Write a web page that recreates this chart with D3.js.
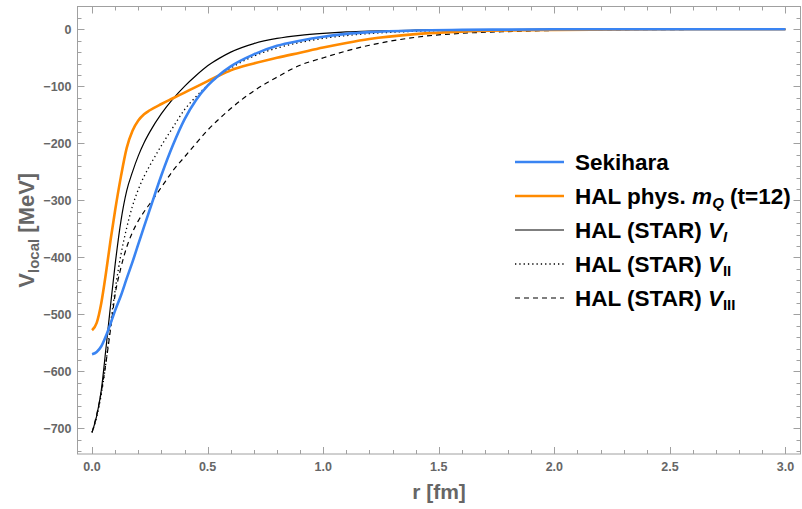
<!DOCTYPE html>
<html>
<head>
<meta charset="utf-8">
<script src="https://cdn.jsdelivr.net/npm/d3@7"></script>
<style>
  body { margin: 0; background: #fff; }
  svg text { font-family: "Liberation Sans", Arial, sans-serif; }
</style>
</head>
<body>
<svg id="chart"></svg>
<script>
// r grid in fm
var rValues = [0, 0.02, 0.04, 0.06, 0.08, 0.1, 0.125, 0.15, 0.175, 0.2, 0.225, 0.25, 0.3, 0.35, 0.4, 0.45,
  0.5, 0.55, 0.6, 0.7, 0.8, 0.9, 1.0, 1.1, 1.2, 1.4, 1.6, 1.8, 2.0, 2.5, 3.0];

var sekihara = [-570, -566, -556, -538, -516, -493, -467, -437, -408, -377, -346, -316, -256, -203, -158, -124,
  -99, -80, -65, -44, -29, -20, -13, -8, -5, -2, -1, -0.5, 0, 0, 0];
var halPhys = [-528, -515, -480, -428, -370, -317, -258, -208, -178, -160, -149, -142, -131, -121, -111, -101,
  -91, -81, -72, -60, -50, -41, -32, -24, -17, -8.5, -4, -2, -1, 0, 0];
var starI = [-707, -678, -633, -560, -484, -412, -336, -283, -250, -222, -199, -180, -148, -122, -100, -81,
  -64, -51, -40, -25, -16, -10.5, -7, -4.5, -3, -1.5, -0.8, -0.4, -0.2, 0, 0];
var starII = [-707, -680, -640, -585, -517, -457, -395, -348, -310, -281, -258, -239, -204, -172, -141, -118,
  -98, -81, -68, -47, -33, -23, -16, -11, -7.5, -3.5, -1.5, -0.8, -0.4, 0, 0];
var starIII = [-707, -676, -636, -585, -526, -465, -418, -382, -356, -336, -320, -306, -277, -248, -224, -200,
  -177, -157, -139, -108, -84, -63, -50, -38, -28, -14, -7, -4, -2, -0.5, 0];

var xMajor = [0, 0.5, 1, 1.5, 2, 2.5, 3];
var yMajor = [0, -100, -200, -300, -400, -500, -600, -700];

function main() {
  var series = [
    { values: sekihara, color: "#3a84f2", width: 2.6, dash: null },
    { values: halPhys, color: "#ff8a00", width: 2.6, dash: null },
    { values: starI, color: "#000", width: 1.2, dash: null },
    { values: starII, color: "#000", width: 1.3, dash: "1.3,3" },
    { values: starIII, color: "#000", width: 1.2, dash: "5,4" }
  ];

  var svg = d3.select("#chart").attr("width", 802).attr("height", 509);

  var plotLeft = 77.5, plotRight = 800.5, plotTop = 6.5, plotBottom = 454;
  var x = d3.scaleLinear().domain([-0.063, 3.065]).range([plotLeft, plotRight]);
  var y = d3.scaleLinear().domain([-745, 40]).range([plotBottom, plotTop]);

  var frameColor = "#a0a0a0";
  var labelColor = "#666";

  svg.append("defs").append("clipPath").attr("id", "plotClip")
    .append("rect").attr("x", plotLeft).attr("y", plotTop)
    .attr("width", plotRight - plotLeft).attr("height", plotBottom - plotTop);

  // curves
  var line = d3.line()
    .x(function (d) { return x(d[0]); })
    .y(function (d) { return y(d[1]); })
    .curve(d3.curveMonotoneX);

  var plot = svg.append("g").attr("clip-path", "url(#plotClip)");
  // black ones first, colored on top like the picture
  [2, 3, 4, 1, 0].forEach(function (i) {
    var s = series[i];
    plot.append("path")
      .datum(d3.zip(rValues, s.values))
      .attr("fill", "none")
      .attr("stroke", s.color)
      .attr("stroke-width", s.width)
      .attr("stroke-dasharray", s.dash)
      .attr("stroke-linejoin", "round")
      .attr("d", line);
  });

  // frame
  svg.append("rect")
    .attr("x", plotLeft).attr("y", plotTop)
    .attr("width", plotRight - plotLeft).attr("height", plotBottom - plotTop)
    .attr("fill", "none").attr("stroke", frameColor).attr("stroke-width", 1);

  // ticks on all four sides, pointing inward
  var xMinor = d3.range(0, 31).map(function (i) { return i / 10; }).filter(function (v) {
    return xMajor.indexOf(v) < 0;
  });
  var yMinor = d3.range(-740, 40, 20).filter(function (v) { return v % 100 !== 0; });

  var ticks = svg.append("g").attr("stroke", frameColor).attr("stroke-width", 1);
  function xTick(v, len) {
    var px = Math.round(x(v)) + 0.5;
    ticks.append("line").attr("x1", px).attr("x2", px).attr("y1", plotBottom).attr("y2", plotBottom - len);
    ticks.append("line").attr("x1", px).attr("x2", px).attr("y1", plotTop).attr("y2", plotTop + len);
  }
  function yTick(v, len) {
    var py = Math.round(y(v)) + 0.5;
    ticks.append("line").attr("x1", plotLeft).attr("x2", plotLeft + len).attr("y1", py).attr("y2", py);
    ticks.append("line").attr("x1", plotRight).attr("x2", plotRight - len).attr("y1", py).attr("y2", py);
  }
  xMajor.forEach(function (v) { xTick(v, 7); });
  xMinor.forEach(function (v) { xTick(v, 4); });
  yMajor.forEach(function (v) { yTick(v, 7); });
  yMinor.forEach(function (v) { yTick(v, 4); });

  // tick labels
  svg.append("g").selectAll("text").data(xMajor).join("text")
    .attr("x", function (d) { return x(d); })
    .attr("y", 471)
    .attr("text-anchor", "middle")
    .attr("font-size", 12.5).attr("font-weight", "bold").attr("fill", labelColor)
    .text(d3.format(".1f"));

  svg.append("g").selectAll("text").data(yMajor).join("text")
    .attr("x", plotLeft - 6)
    .attr("y", function (d) { return y(d) + 4.5; })
    .attr("text-anchor", "end")
    .attr("font-size", 12.5).attr("font-weight", "bold").attr("fill", labelColor)
    .text(function (d) { return d === 0 ? "0" : "\u2212" + Math.abs(d); });

  // axis titles
  svg.append("text")
    .attr("x", (plotLeft + plotRight) / 2).attr("y", 499)
    .attr("text-anchor", "middle")
    .attr("font-size", 21).attr("font-weight", "bold").attr("fill", labelColor)
    .text("r [fm]");

  var yTitle = svg.append("text")
    .attr("transform", "translate(34," + (plotTop + plotBottom) / 2 + ") rotate(-90)")
    .attr("text-anchor", "middle")
    .attr("font-size", 22).attr("font-weight", "bold").attr("fill", labelColor);
  yTitle.append("tspan").text("V");
  yTitle.append("tspan").attr("font-size", 15).attr("dy", 5).text("local");
  yTitle.append("tspan").attr("dy", -5).text(" [MeV]");

  // legend
  var legend = svg.append("g").attr("transform", "translate(515,162)");
  var rowGap = 34;
  series.forEach(function (s, i) {
    legend.append("line")
      .attr("x1", 0).attr("x2", 49).attr("y1", i * rowGap).attr("y2", i * rowGap)
      .attr("stroke", s.color).attr("stroke-width", s.width).attr("stroke-dasharray", s.dash);
  });
  function legendText(i) {
    return legend.append("text")
      .attr("x", 60).attr("y", i * rowGap + 8)
      .attr("font-size", 22.5).attr("font-weight", "bold").attr("fill", "#000");
  }
  legendText(0).text("Sekihara");
  var t1 = legendText(1);
  t1.append("tspan").text("HAL phys. ");
  t1.append("tspan").attr("font-style", "italic").text("m");
  t1.append("tspan").attr("font-style", "italic").attr("font-size", 15).attr("dy", 4).text("Q");
  t1.append("tspan").attr("dy", -4).text(" (t=12)");
  var subs = [["I", true], ["II", false], ["III", false]];
  subs.forEach(function (sb, k) {
    var t = legendText(k + 2);
    t.append("tspan").text("HAL (STAR) ");
    t.append("tspan").attr("font-style", "italic").text("V");
    t.append("tspan").attr("font-size", 15).attr("dy", 4)
      .attr("font-style", sb[1] ? "italic" : "normal").text(sb[0]);
  });
}
main();
</script>
</body>
</html>
